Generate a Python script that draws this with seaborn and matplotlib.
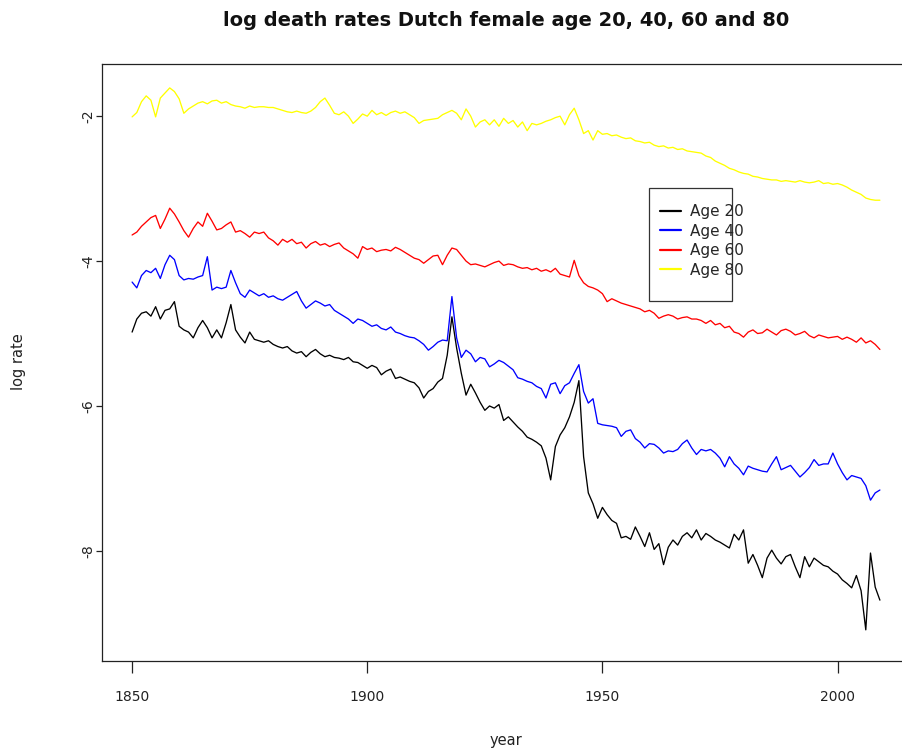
import numpy as np
import pandas as pd
import matplotlib
matplotlib.use("Agg")
import matplotlib.pyplot as plt
import matplotlib.patches as mpatches
import seaborn as sns

years = list(range(1850, 2010))

age20 = [
    -4.98, -4.80, -4.72, -4.70, -4.76, -4.63, -4.80, -4.68, -4.66, -4.56,
    -4.90, -4.95, -4.98, -5.06, -4.92, -4.82, -4.92, -5.06, -4.95, -5.06,
    -4.85, -4.60, -4.95, -5.05, -5.13, -4.98, -5.08, -5.10, -5.12, -5.10,
    -5.15, -5.18, -5.20, -5.18, -5.24, -5.27, -5.25, -5.32, -5.26, -5.22,
    -5.28, -5.32, -5.30, -5.33, -5.34, -5.36, -5.33, -5.39, -5.40, -5.44,
    -5.48, -5.44, -5.47, -5.57, -5.52, -5.49, -5.62, -5.60, -5.63, -5.66,
    -5.68, -5.75, -5.89, -5.80, -5.76, -5.67, -5.62, -5.30, -4.77, -5.20,
    -5.55, -5.85, -5.70, -5.82, -5.95, -6.06, -6.00, -6.03, -5.98, -6.20,
    -6.15, -6.22, -6.29, -6.35, -6.43, -6.46, -6.50, -6.55, -6.72, -7.02,
    -6.56, -6.40, -6.30, -6.15, -5.95, -5.65, -6.70, -7.20, -7.35, -7.55,
    -7.40, -7.50, -7.58, -7.62, -7.82, -7.80, -7.84, -7.67, -7.80, -7.94,
    -7.75, -7.98, -7.90, -8.19, -7.95, -7.85, -7.92, -7.80, -7.75, -7.82,
    -7.71, -7.85, -7.76, -7.80, -7.85, -7.88, -7.92, -7.96, -7.77, -7.85,
    -7.71, -8.17, -8.05, -8.20, -8.37, -8.10, -7.99, -8.10, -8.18, -8.08,
    -8.05, -8.22, -8.37, -8.08, -8.22, -8.10, -8.15, -8.20, -8.22, -8.28,
    -8.32, -8.40, -8.45, -8.51, -8.34, -8.55, -9.09, -8.03, -8.50, -8.68,
]

age40 = [
    -4.29, -4.37, -4.20, -4.13, -4.16, -4.10, -4.24, -4.05, -3.92, -3.98,
    -4.20, -4.26, -4.24, -4.25, -4.22, -4.20, -3.94, -4.40, -4.36, -4.38,
    -4.36, -4.13, -4.30, -4.45, -4.50, -4.40, -4.44, -4.48, -4.45, -4.50,
    -4.48, -4.52, -4.54, -4.50, -4.46, -4.42, -4.55, -4.65, -4.60, -4.55,
    -4.58, -4.62, -4.60, -4.68, -4.72, -4.76, -4.80, -4.86, -4.80, -4.82,
    -4.86, -4.90, -4.88, -4.93, -4.95, -4.91, -4.98, -5.00, -5.03, -5.05,
    -5.06, -5.10, -5.15, -5.23, -5.18, -5.12, -5.09, -5.10, -4.49, -5.06,
    -5.33, -5.23, -5.28, -5.39, -5.33, -5.35, -5.46, -5.42, -5.37, -5.40,
    -5.45, -5.50, -5.61, -5.63, -5.66, -5.68, -5.73, -5.76, -5.89, -5.70,
    -5.68, -5.83, -5.72, -5.68, -5.55, -5.43, -5.80, -5.96, -5.90, -6.24,
    -6.26, -6.27, -6.28, -6.30, -6.42, -6.35, -6.33, -6.45, -6.50, -6.58,
    -6.52, -6.53, -6.58, -6.65, -6.62, -6.63, -6.60, -6.52, -6.47, -6.58,
    -6.67, -6.60, -6.62, -6.60, -6.65, -6.72, -6.84, -6.70, -6.80, -6.86,
    -6.95, -6.83, -6.86, -6.88, -6.90, -6.91, -6.80, -6.70, -6.88, -6.85,
    -6.82, -6.90, -6.98, -6.92, -6.85, -6.74, -6.82, -6.80, -6.80, -6.65,
    -6.80, -6.92, -7.02, -6.96, -6.98, -7.00, -7.10, -7.30, -7.20, -7.16,
]

age60 = [
    -3.64, -3.60, -3.52, -3.46, -3.40, -3.37, -3.55, -3.42, -3.27, -3.35,
    -3.46, -3.58, -3.67, -3.55, -3.46, -3.52, -3.34, -3.45, -3.57, -3.55,
    -3.50, -3.46, -3.60, -3.58, -3.62, -3.67, -3.60, -3.62, -3.60, -3.68,
    -3.72, -3.78, -3.70, -3.74, -3.70, -3.76, -3.74, -3.82, -3.76, -3.73,
    -3.78, -3.76, -3.80, -3.77, -3.75, -3.82, -3.86, -3.90, -3.96, -3.80,
    -3.84, -3.82, -3.87, -3.85, -3.84, -3.86, -3.81, -3.84, -3.88, -3.92,
    -3.96, -3.98, -4.03, -3.98, -3.93, -3.92, -4.05, -3.92, -3.82, -3.84,
    -3.92, -4.00, -4.05, -4.04, -4.06, -4.08, -4.05, -4.02, -4.00, -4.06,
    -4.04, -4.05, -4.08, -4.10, -4.09, -4.12, -4.10, -4.14, -4.12, -4.15,
    -4.10, -4.18, -4.20, -4.22, -3.99, -4.20, -4.30, -4.35, -4.37, -4.40,
    -4.45, -4.56, -4.52, -4.55, -4.58, -4.60, -4.62, -4.64, -4.66, -4.70,
    -4.68, -4.72, -4.79, -4.76, -4.74, -4.76, -4.80, -4.78, -4.77, -4.80,
    -4.80, -4.82, -4.86, -4.82, -4.88, -4.86, -4.92, -4.90, -4.98, -5.00,
    -5.05, -4.98, -4.95, -5.00, -4.99, -4.94, -4.98, -5.02, -4.96, -4.94,
    -4.97, -5.02, -5.00, -4.97, -5.03, -5.06, -5.02, -5.04, -5.06, -5.05,
    -5.04, -5.08, -5.05, -5.08, -5.12, -5.06, -5.13, -5.10, -5.15, -5.22,
]

age80 = [
    -2.01, -1.95, -1.80, -1.72, -1.78, -2.01, -1.75, -1.68, -1.61, -1.66,
    -1.76, -1.96, -1.90, -1.86, -1.82, -1.80, -1.83, -1.79, -1.78, -1.82,
    -1.80, -1.84, -1.86, -1.87, -1.89, -1.86, -1.88, -1.87, -1.87, -1.88,
    -1.88, -1.90, -1.92, -1.94, -1.95, -1.93, -1.95, -1.96, -1.93, -1.88,
    -1.80, -1.75, -1.85, -1.96, -1.98, -1.94, -2.00, -2.10, -2.04, -1.97,
    -2.00, -1.92, -1.98, -1.95, -1.99, -1.95, -1.93, -1.96, -1.94, -1.98,
    -2.02, -2.10, -2.06, -2.05, -2.04, -2.03, -1.98, -1.95, -1.92, -1.96,
    -2.05, -1.90, -2.00, -2.15, -2.08, -2.05, -2.12, -2.05, -2.14, -2.03,
    -2.10, -2.06, -2.15, -2.08, -2.20, -2.10, -2.12, -2.10, -2.07, -2.05,
    -2.02, -2.00, -2.12, -1.98, -1.89, -2.05, -2.24, -2.20, -2.33, -2.20,
    -2.25, -2.24, -2.27, -2.26, -2.29, -2.31, -2.30, -2.34, -2.35, -2.37,
    -2.36, -2.40, -2.42, -2.41, -2.44, -2.43, -2.46, -2.45, -2.48, -2.49,
    -2.50, -2.51, -2.55, -2.57, -2.62, -2.65, -2.68, -2.72, -2.74, -2.77,
    -2.79, -2.80, -2.83, -2.84, -2.86, -2.87, -2.88, -2.88, -2.90, -2.89,
    -2.90, -2.91, -2.89, -2.91, -2.92, -2.91, -2.89, -2.93, -2.92, -2.94,
    -2.93, -2.95, -2.98, -3.02, -3.05, -3.08, -3.13, -3.15, -3.16, -3.16,
]

labels = ["Age 20", "Age 40", "Age 60", "Age 80"]
colors = {"Age 20": "black", "Age 40": "blue", "Age 60": "red", "Age 80": "yellow"}

df = pd.concat([
    pd.DataFrame({"year": years, "rate": vals, "series": lab})
    for lab, vals in zip(labels, [age20, age40, age60, age80])
], ignore_index=True)

sns.set_theme(style="white")
plt.rcParams["font.family"] = ["DejaVu Sans"]

W, H = 902, 751
fig = plt.figure(figsize=(W / 100, H / 100), dpi=100)
ax = fig.add_axes([102 / W, (H - 661) / H, 808 / W, 597 / H])

sns.lineplot(data=df, x="year", y="rate", hue="series", palette=colors,
             linewidth=0.95, ax=ax, legend=False)

ax.set_xlim(1843.6, 2015.4)
ax.set_ylim(-9.52, -1.28)
ax.set_xticks([1850, 1900, 1950, 2000])
ax.set_yticks([-8, -6, -4, -2])
ax.set_yticklabels(["-8", "-6", "-4", "-2"], rotation=90, va="center")

for s in ax.spines.values():
    s.set_visible(True)
    s.set_color("#222222")
    s.set_linewidth(0.9)

ax.tick_params(axis="x", direction="out", length=8.6, width=0.9, pad=12,
               labelsize=10, colors="#222222", bottom=True)
ax.tick_params(axis="y", direction="out", length=4, width=0.9, pad=1,
               labelsize=10, colors="#222222", left=True)

ax.set_xlabel("year", fontsize=10.5, color="#222222")
ax.xaxis.set_label_coords(0.5, (661 - 741) / 597)
ax.xaxis.label.set_va("center")
ax.set_ylabel("log rate", fontsize=10.5, color="#222222")
ax.yaxis.set_label_coords((18 - 102) / 808, (661 - 362) / 597)
ax.yaxis.label.set_va("center")

fig.suptitle("log death rates Dutch female age 20, 40, 60 and 80",
             x=506 / W, y=1 - 20 / H, va="center", fontsize=14,
             fontweight="bold", color="#111111")

# legend box (R style) and legend entries
box = mpatches.Rectangle((649 / W, (H - 301) / H), 83 / W, 113 / H,
                         transform=fig.transFigure, facecolor="white",
                         edgecolor="#333333", linewidth=0.9, zorder=4)
ax.add_patch(box)
box.set_clip_on(False)

handles = ax.get_lines()[:4]
leg = ax.legend(handles, labels, loc="upper left",
                bbox_to_anchor=(660 / W, 1 - 204 / H),
                bbox_transform=fig.transFigure, frameon=False,
                fontsize=11, borderpad=0, borderaxespad=0,
                handlelength=1.37, handletextpad=0.6, labelspacing=0.3)
for line in leg.get_lines():
    line.set_linewidth(1.6)
leg.set_zorder(5)

fig.savefig("out.png", dpi=100)
